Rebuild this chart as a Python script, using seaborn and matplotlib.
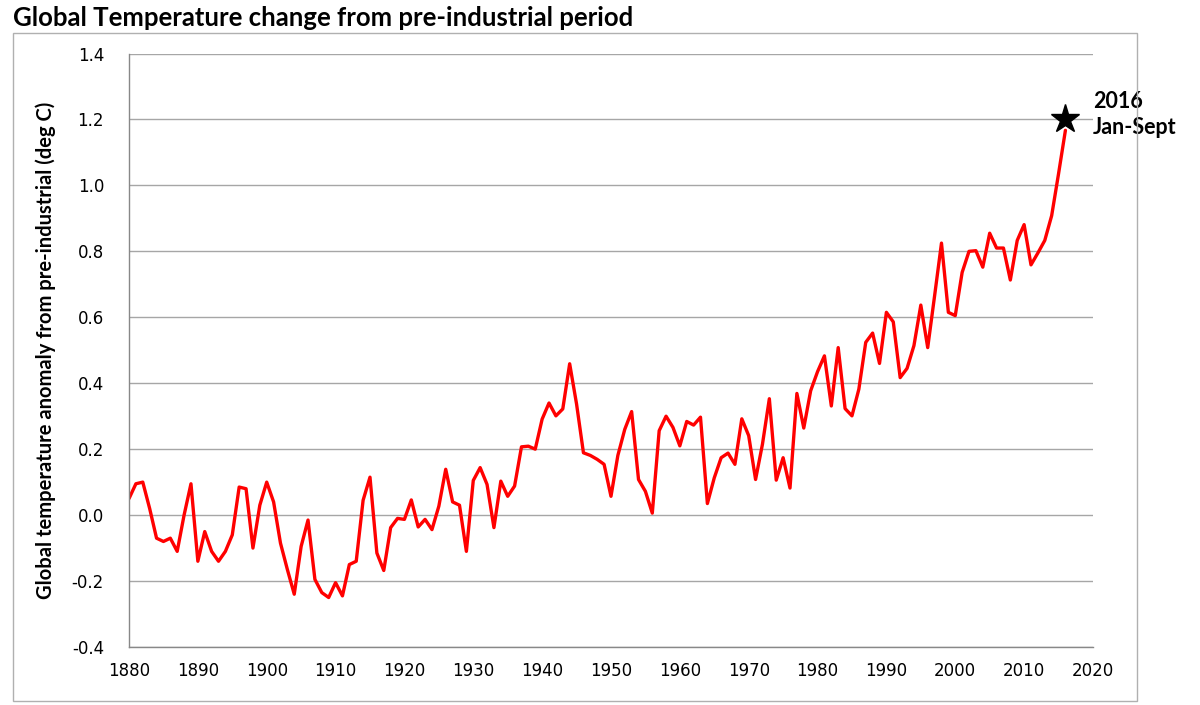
import numpy as np
import pandas as pd
import matplotlib
matplotlib.use('Agg')
import matplotlib.pyplot as plt
import seaborn as sns
from matplotlib.patches import Rectangle

# =============================================================================
# Data
# =============================================================================
years = np.arange(1880, 2017)

temp_anomaly = [
    # 1880s
    0.05, 0.095, 0.10, 0.02, -0.07, -0.08, -0.07, -0.11, 0.00, 0.095,
    # 1890s
    -0.14, -0.05, -0.11, -0.14, -0.11, -0.06, 0.085, 0.08, -0.10, 0.03,
    # 1900s
    0.10, 0.04, -0.085, -0.165, -0.24, -0.095, -0.015, -0.195, -0.235, -0.25,
    # 1910s
    -0.205, -0.245, -0.15, -0.14, 0.045, 0.115, -0.115, -0.168, -0.038, -0.01,
    # 1920s
    -0.013, 0.046, -0.036, -0.013, -0.044, 0.027, 0.139, 0.04, 0.03, -0.11,
    # 1930s
    0.105, 0.144, 0.093, -0.038, 0.103, 0.057, 0.088, 0.207, 0.209, 0.20,
    # 1940s
    0.291, 0.34, 0.301, 0.322, 0.459, 0.337, 0.189, 0.181, 0.169, 0.154,
    # 1950s
    0.057, 0.181, 0.26, 0.314, 0.108, 0.072, 0.006, 0.256, 0.30, 0.266,
    # 1960s
    0.21, 0.284, 0.273, 0.297, 0.035, 0.113, 0.174, 0.188, 0.154, 0.292,
    # 1970s
    0.241, 0.108, 0.215, 0.353, 0.106, 0.174, 0.082, 0.369, 0.264, 0.377,
    # 1980s
    0.435, 0.483, 0.331, 0.508, 0.323, 0.301, 0.382, 0.524, 0.552, 0.46,
    # 1990s
    0.615, 0.586, 0.417, 0.445, 0.514, 0.637, 0.508, 0.665, 0.825, 0.615,
    # 2000s
    0.605, 0.736, 0.80, 0.802, 0.752, 0.855, 0.81, 0.81, 0.713, 0.833,
    # 2010-2016
    0.881, 0.759, 0.795, 0.833, 0.908, 1.035, 1.167,
]

star_year = [2016]
star_value = [1.2]
star_label = '2016\nJan-Sept'

x_ticks = np.arange(1880, 2021, 10)
y_ticks = [-0.4, -0.2, 0.0, 0.2, 0.4, 0.6, 0.8, 1.0, 1.2, 1.4]

df = pd.DataFrame({'year': years, 'anomaly': temp_anomaly})

# =============================================================================
# Plot
# =============================================================================
sns.set_style('white')
plt.rcParams['font.family'] = ['DejaVu Sans']
plt.rcParams['text.color'] = 'black'

fig = plt.figure(figsize=(12, 7.05), dpi=100)
ax = fig.add_axes([0.1075, 0.0823, 0.8033, 0.8418])

sns.lineplot(data=df, x='year', y='anomaly', color='#ff0000', linewidth=2.4, ax=ax)
ax.plot(star_year, star_value, marker='*', color='black', markersize=21,
        linestyle='none', clip_on=False, zorder=5)
ax.text(2020.0, 1.215, star_label, ha='left', va='center', fontsize=15.5,
        fontweight='bold', family=['Lato', 'DejaVu Sans'], linespacing=1.35,
        color='black')

ax.set_xlim(1880, 2020)
ax.set_ylim(-0.4, 1.4)
ax.set_xticks(x_ticks)
ax.set_yticks(y_ticks)
ax.set_yticklabels([f'{v:.1f}' for v in y_ticks])
ax.tick_params(axis='both', labelsize=12, colors='#888888', labelcolor='black',
               length=6, width=1, direction='out')
ax.tick_params(axis='y', pad=12)
ax.tick_params(axis='x', pad=5)
ax.yaxis.grid(True, color='#a6a6a6', linewidth=1)
ax.xaxis.grid(False)

for side in ['top', 'right']:
    ax.spines[side].set_visible(False)
for side in ['left', 'bottom']:
    ax.spines[side].set_color('#888888')
    ax.spines[side].set_linewidth(1)

ax.set_xlabel('')
ax.set_ylabel('Global temperature anomaly from pre-industrial (deg C)', fontsize=14.5,
              fontweight='bold', family=['Lato', 'DejaVu Sans'], labelpad=11,
              color='black')

fig.text(0.011, 0.974, 'Global Temperature change from pre-industrial period',
         ha='left', va='center', fontsize=18.5, fontweight='bold',
         family=['Lato', 'DejaVu Sans'], color='black')

# light frame around the chart area
fig.patches.append(Rectangle((13 / 1200, 0.006), 1124 / 1200, 1 - 33 / 705 - 0.006,
                             transform=fig.transFigure, fill=False,
                             edgecolor='#b0b0b0', linewidth=1))

plt.savefig('out.png', dpi=100)
